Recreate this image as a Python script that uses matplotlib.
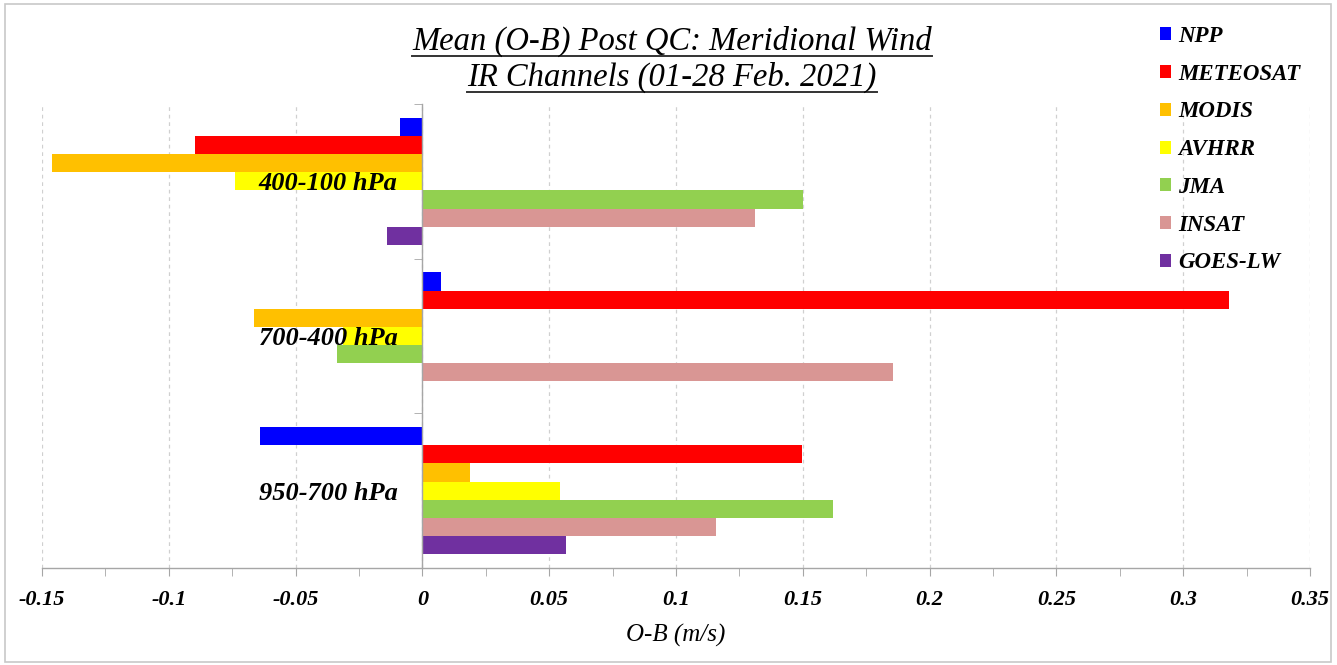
import matplotlib.pyplot as plt
import numpy as np
from matplotlib.patches import Patch, Rectangle
from matplotlib.lines import Line2D
from matplotlib.ticker import MultipleLocator

# data (m/s)
levels = ['400-100 hPa', '700-400 hPa', '950-700 hPa']
satellites = ['NPP', 'METEOSAT', 'MODIS', 'AVHRR', 'JMA', 'INSAT', 'GOES-LW']
npp = [-0.009, 0.0075, -0.064]
meteosat = [-0.0895, 0.318, 0.1497]
modis = [-0.146, -0.0666, 0.0189]
avhrr = [-0.074, -0.0315, 0.0544]
jma = [0.150, -0.0335, 0.162]
insat = [0.131, 0.1856, 0.1156]
goes_lw = [-0.014, 0.0, 0.0567]
xticks = [-0.15, -0.1, -0.05, 0, 0.05, 0.1, 0.15, 0.2, 0.25, 0.3, 0.35]
xtick_labels = ['-0.15', '-0.1', '-0.05', '0', '0.05', '0.1', '0.15', '0.2', '0.25', '0.3', '0.35']

series = [npp, meteosat, modis, avhrr, jma, insat, goes_lw]
colors = ['#0000ff', '#ff0000', '#ffc000', '#ffff00', '#92d050', '#d99694', '#7030a0']

W, H = 1337, 665
fig = plt.figure(figsize=(W / 100, H / 100), dpi=100)
ax = fig.add_axes([42 / W, 1 - 568 / H, (1310 - 42) / W, (568 - 104) / H])

serif = 'Liberation Serif'

# groups from top to bottom
centers = np.array([2, 1, 0])
h = 0.1175
for j, (vals, c) in enumerate(zip(series, colors)):
    ax.barh(centers + (3 - j) * h, vals, height=h, color=c, zorder=1)

for x in xticks:
    ax.axvline(x, color='#d0d0d0', lw=0.9, ls=(0, (3, 3)), zorder=0)

ax.set_xlim(-0.15, 0.35)
ax.set_ylim(-0.5, 2.5)

# y axis sits at x = 0
ax.spines['left'].set_position(('data', 0))
for s in ['top', 'right']:
    ax.spines[s].set_visible(False)
for s in ['left', 'bottom']:
    ax.spines[s].set_color('#a6a6a6')
    ax.spines[s].set_linewidth(1.0)

ax.set_yticks(centers)
ax.set_yticklabels(levels, fontfamily=serif, fontweight='bold', fontstyle='italic', fontsize=19)
ax.set_yticks([-0.5, 0.5, 1.5, 2.5], minor=True)
ax.tick_params(axis='y', which='major', length=0, pad=18)
ax.tick_params(axis='y', which='minor', length=6, color='#a6a6a6')

ax.set_xticks(xticks)
ax.set_xticklabels(xtick_labels, fontfamily=serif, fontweight='bold', fontstyle='italic', fontsize=16)
ax.xaxis.set_minor_locator(MultipleLocator(0.025))
ax.tick_params(axis='x', which='both', length=6, color='#a6a6a6', pad=10)
ax.set_xlabel('O-B (m/s)', fontfamily=serif, fontstyle='italic', fontsize=18, labelpad=10)

# title lines, underlined
t1 = fig.text(672 / W, 1 - 41 / H, 'Mean (O-B) Post QC: Meridional Wind', ha='center', va='center',
              fontfamily=serif, fontstyle='italic', fontsize=23.5)
t2 = fig.text(672 / W, 1 - 77 / H, 'IR Channels (01-28 Feb. 2021)', ha='center', va='center',
              fontfamily=serif, fontstyle='italic', fontsize=23.5)

handles = [Patch(facecolor=c, edgecolor='none') for c in colors]
fig.legend(handles, satellites, loc='upper left', bbox_to_anchor=(1160 / W, 1 - 26 / H),
           frameon=False, borderpad=0, borderaxespad=0, handlelength=0.5, handleheight=0.5,
           handletextpad=0.3, labelspacing=0.73,
           prop={'family': serif, 'weight': 'bold', 'style': 'italic', 'size': 16.5})

# outer frame
fig.add_artist(Rectangle((5 / W, 3 / H), (1331 - 5) / W, (661 - 3) / H, transform=fig.transFigure,
                         fill=False, edgecolor='#c8c8c8', lw=1.2))

fig.canvas.draw()
r = fig.canvas.get_renderer()
for t in [t1, t2]:
    bb = t.get_window_extent(r)
    y = (bb.y0 + 1) / H
    fig.add_artist(Line2D([bb.x0 / W, bb.x1 / W], [y, y], transform=fig.transFigure,
                          color='#333333', lw=1.4))

fig.savefig('out.png', dpi=100)
